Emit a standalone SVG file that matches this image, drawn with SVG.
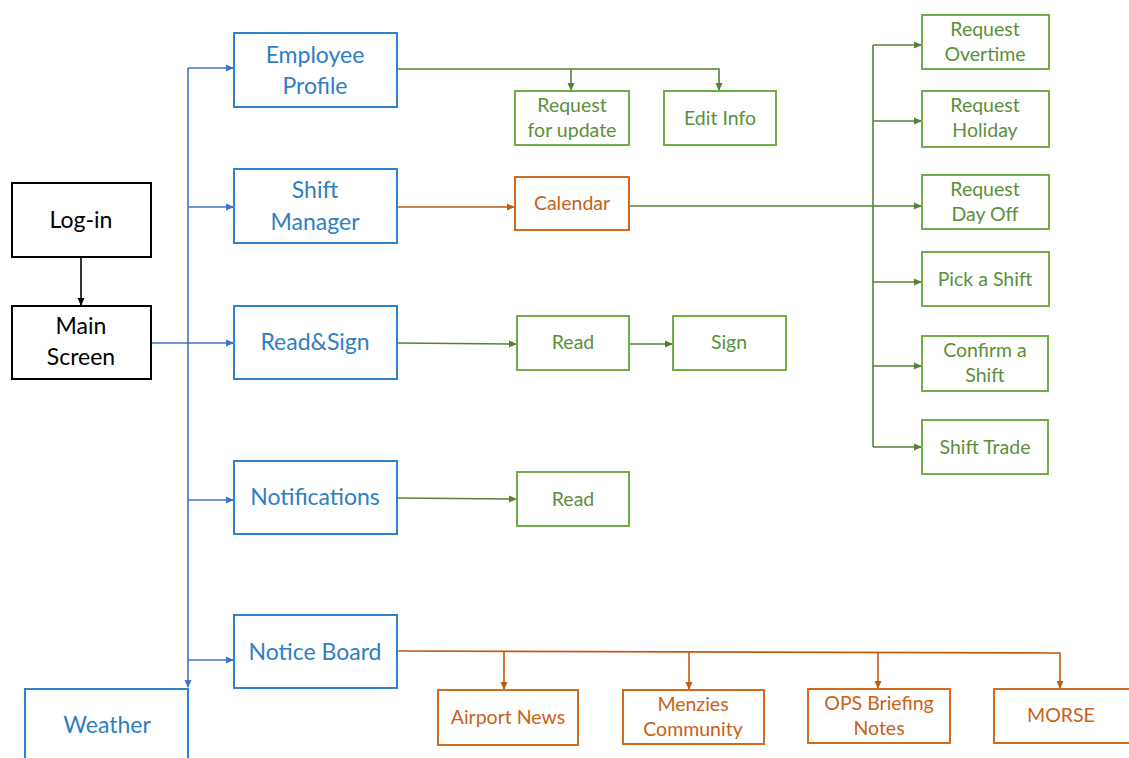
<svg xmlns="http://www.w3.org/2000/svg" width="1129" height="758" viewBox="0 0 1129 758">
<defs>
<marker id="ab" markerWidth="8" markerHeight="8" refX="7" refY="4" orient="auto" markerUnits="userSpaceOnUse"><path d="M0,0.5 L8,4 L0,7.5 Z" fill="#4472C4"/></marker>
<marker id="ag" markerWidth="8" markerHeight="8" refX="7" refY="4" orient="auto" markerUnits="userSpaceOnUse"><path d="M0,0.5 L8,4 L0,7.5 Z" fill="#548235"/></marker>
<marker id="ao" markerWidth="8" markerHeight="8" refX="7" refY="4" orient="auto" markerUnits="userSpaceOnUse"><path d="M0,0.5 L8,4 L0,7.5 Z" fill="#C55A11"/></marker>
<marker id="ak" markerWidth="8" markerHeight="8" refX="7" refY="4" orient="auto" markerUnits="userSpaceOnUse"><path d="M0,0.5 L8,4 L0,7.5 Z" fill="#000"/></marker>
</defs>
<style>
rect{fill:#fff;stroke-width:2}
.k rect{stroke:#000}
.b rect{stroke:#2E83CC}
.g rect{stroke:#70AD47}
.o rect{stroke:#D2691E}
text{font-family:Lato,"Open Sans","Liberation Sans",sans-serif;text-anchor:middle}
.k text{fill:#000;font-size:23px}
.b text{fill:#2E7EC4;font-size:23px}
.g text{fill:#5B8F3A;font-size:19.5px}
.o text{fill:#C8611A;font-size:19.5px}
.cb{stroke:#4472C4;stroke-width:1.6;fill:none}
.cg{stroke:#548235;stroke-width:1.6;fill:none}
.co{stroke:#C55A11;stroke-width:1.6;fill:none}
.ck{stroke:#000;stroke-width:1.6;fill:none}
</style>
<rect x="0" y="0" width="1129" height="758" style="fill:#fff;stroke:none"/>
<g id="connectors">
<path class="ck" d="M81,257 V305" marker-end="url(#ak)"/>
<path class="cb" d="M151,343 H233" marker-end="url(#ab)"/>
<path class="cb" d="M188,68 V687" marker-end="url(#ab)"/>
<path class="cb" d="M188,68 H233" marker-end="url(#ab)"/>
<path class="cb" d="M188,207 H233" marker-end="url(#ab)"/>
<path class="cb" d="M188,500 H233" marker-end="url(#ab)"/>
<path class="cb" d="M188,660 H233" marker-end="url(#ab)"/>
<path class="cg" d="M397,69 H719 V90" marker-end="url(#ag)"/>
<path class="cg" d="M571,69 V90" marker-end="url(#ag)"/>
<path class="co" d="M397,207 H514" marker-end="url(#ao)"/>
<path class="cg" d="M629,206 H873"/>
<path class="cg" d="M873,45 V447"/>
<path class="cg" d="M873,45 H921" marker-end="url(#ag)"/>
<path class="cg" d="M873,121 H921" marker-end="url(#ag)"/>
<path class="cg" d="M873,206 H921" marker-end="url(#ag)"/>
<path class="cg" d="M873,282 H921" marker-end="url(#ag)"/>
<path class="cg" d="M873,366 H921" marker-end="url(#ag)"/>
<path class="cg" d="M873,447 H921" marker-end="url(#ag)"/>
<path class="cg" d="M397,343 L516,344" marker-end="url(#ag)"/>
<path class="cg" d="M629,344 H672" marker-end="url(#ag)"/>
<path class="cg" d="M397,498 L516,499" marker-end="url(#ag)"/>
<path class="co" d="M397,651 L1060,653 V688" marker-end="url(#ao)"/>
<path class="co" d="M504,651 V689" marker-end="url(#ao)"/>
<path class="co" d="M689,652 V689" marker-end="url(#ao)"/>
<path class="co" d="M878,652 V688" marker-end="url(#ao)"/>
</g>
<g id="login" class="k"><rect x="12" y="183" width="139" height="74"/><text x="81" y="228">Log-in</text></g>
<g id="main" class="k"><rect x="12" y="306" width="139" height="73"/><text x="81" y="334">Main</text><text x="81" y="365">Screen</text></g>
<g id="employee" class="b"><rect x="234" y="33" width="163" height="74"/><text x="315" y="63">Employee</text><text x="315" y="94">Profile</text></g>
<g id="shift" class="b"><rect x="234" y="169" width="163" height="74"/><text x="315" y="198">Shift</text><text x="315" y="230">Manager</text></g>
<g id="readsign" class="b"><rect x="234" y="306" width="163" height="73"/><text x="315" y="350">Read&amp;Sign</text></g>
<g id="notifications" class="b"><rect x="234" y="461" width="163" height="73"/><text x="315" y="505">Notifications</text></g>
<g id="noticeboard" class="b"><rect x="234" y="615" width="163" height="73"/><text x="315" y="660">Notice Board</text></g>
<g id="weather" class="b"><rect x="25" y="689" width="163" height="80"/><text x="107" y="733">Weather</text></g>
<g id="requpdate" class="g"><rect x="515" y="91" width="114" height="54"/><text x="572" y="112">Request</text><text x="572" y="137">for update</text></g>
<g id="editinfo" class="g"><rect x="664" y="91" width="112" height="54"/><text x="720" y="125">Edit Info</text></g>
<g id="calendar" class="o"><rect x="515" y="177" width="114" height="53"/><text x="572" y="210">Calendar</text></g>
<g id="read1" class="g"><rect x="517" y="316" width="112" height="54"/><text x="573" y="349">Read</text></g>
<g id="sign" class="g"><rect x="673" y="316" width="113" height="54"/><text x="729" y="349">Sign</text></g>
<g id="read2" class="g"><rect x="517" y="472" width="112" height="54"/><text x="573" y="506">Read</text></g>
<g id="overtime" class="g"><rect x="922" y="15" width="127" height="54"/><text x="985" y="36">Request</text><text x="985" y="61">Overtime</text></g>
<g id="holiday" class="g"><rect x="922" y="91" width="127" height="56"/><text x="985" y="112">Request</text><text x="985" y="137">Holiday</text></g>
<g id="dayoff" class="g"><rect x="922" y="175" width="127" height="54"/><text x="985" y="196">Request</text><text x="985" y="221">Day Off</text></g>
<g id="pick" class="g"><rect x="922" y="252" width="127" height="54"/><text x="985" y="286">Pick a Shift</text></g>
<g id="confirm" class="g"><rect x="922" y="336" width="126" height="55"/><text x="985" y="357">Confirm a</text><text x="985" y="382">Shift</text></g>
<g id="trade" class="g"><rect x="922" y="420" width="126" height="54"/><text x="985" y="454">Shift Trade</text></g>
<g id="airport" class="o"><rect x="438" y="690" width="140" height="55"/><text x="508" y="724">Airport News</text></g>
<g id="menzies" class="o"><rect x="623" y="690" width="141" height="54"/><text x="693" y="711">Menzies</text><text x="693" y="736">Community</text></g>
<g id="ops" class="o"><rect x="808" y="689" width="142" height="54"/><text x="879" y="710">OPS Briefing</text><text x="879" y="735">Notes</text></g>
<g id="morse" class="o"><rect x="994" y="689" width="140" height="54"/><text x="1061" y="722">MORSE</text></g>
</svg>
